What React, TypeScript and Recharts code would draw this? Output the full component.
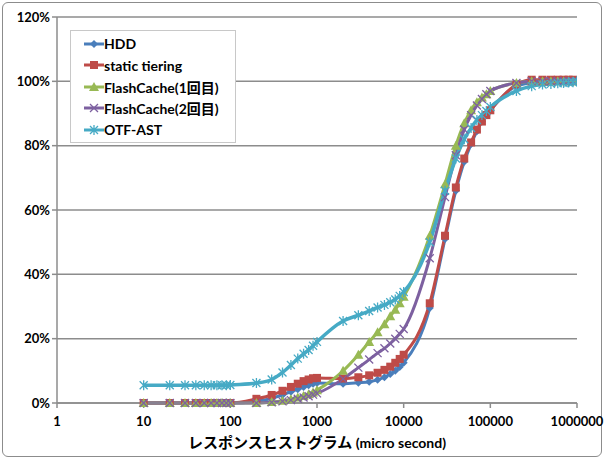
import { LineChart, Line, XAxis, YAxis, CartesianGrid, Label } from "recharts";

const xs = [
  10, 20, 30, 40, 50, 60, 70, 80, 90,
  100, 200, 300, 400, 500, 600, 700, 800, 900,
  1000, 2000, 3000, 4000, 5000, 6000, 7000, 8000, 9000,
  10000, 20000, 30000, 40000, 50000, 60000, 70000, 80000, 90000,
  100000, 200000, 300000, 400000, 500000, 600000, 700000, 800000, 900000,
  1000000,
];

const hdd = [
  0, 0, 0, 0, 0, 0, 0, 0, 0,
  0, 0.5, 1.5, 2.5, 3.5, 4.3, 5, 5.5, 6,
  6.2, 6, 6.3, 6.6, 7.2, 8, 9, 10, 11.2,
  12.5, 29.5, 51, 66, 75, 80.5, 84.5, 87.5, 89.5,
  91, 98.5, 99.5, 99.8, 99.9, 100, 100, 100, 100,
  100,
];

const staticTiering = [
  0, 0, 0, 0, 0, 0, 0, 0, 0,
  0, 1.3, 2.5, 3.8, 5, 6, 6.8, 7.3, 7.7,
  7.8, 7.6, 8, 8.6, 9.4, 10.3, 11.3, 12.5, 13.7,
  15, 31, 52, 67, 76, 81, 85, 87.5, 89.5,
  91, 99, 100.5, 100.5, 100.5, 100.5, 100.5, 100.5, 100.5,
  100.3,
];

const flash1 = [
  0, 0, 0, 0, 0, 0, 0, 0, 0,
  0, 0, 0.3, 0.7, 1.2, 1.7, 2.2, 2.7, 3.3,
  4, 10, 15, 19, 22, 24.5, 27, 29, 31,
  33, 52, 68, 80, 87, 91, 93.5, 95, 96,
  97, 99.5, 100, 100, 100, 100, 100, 100, 100,
  100,
];

const flash2 = [
  0, 0, 0, 0, 0, 0, 0, 0, 0,
  0, 0, 0.2, 0.5, 0.9, 1.3, 1.7, 2.1, 2.6,
  3, 7.5, 11, 13.5, 15.5, 17, 18.5, 20, 21.5,
  23, 45, 64, 77, 85, 89.5, 92.5, 94.5, 96,
  97, 99.5, 100, 100, 100, 100, 100, 100, 100,
  100,
];

const otfAst = [
  5.5, 5.5, 5.5, 5.5, 5.5, 5.5, 5.5, 5.5, 5.5,
  5.6, 6.2, 7.3, 9.5, 11.8, 13.8, 15.3, 16.5, 17.8,
  19, 25.5, 27.3, 28.6, 29.7, 30.5, 31.3, 32.2, 33.3,
  34.5, 50, 66, 76, 82, 85.5, 88, 89.5, 90.8,
  92, 97, 98.5, 99, 99.2, 99.4, 99.5, 99.6, 99.7,
  100,
];

const xTicks = [1, 10, 100, 1000, 10000, 100000, 1000000];
const yTicks = [0, 20, 40, 60, 80, 100, 120];

const data = xs.map((x, i) => ({
  x,
  hdd: hdd[i],
  st: staticTiering[i],
  fc1: flash1[i],
  fc2: flash2[i],
  otf: otfAst[i],
}));

const font = "Lato, 'Noto Sans CJK JP', sans-serif";

type Shape = "diamond" | "square" | "triangle" | "x" | "star";

function marker(shape: Shape, cx: number, cy: number, color: string, key?: string) {
  const s = 4;
  if (shape === "diamond")
    return <path key={key} d={`M${cx},${cy - s}L${cx + s},${cy}L${cx},${cy + s}L${cx - s},${cy}Z`} fill={color} />;
  if (shape === "square")
    return <rect key={key} x={cx - s} y={cy - s} width={s * 2} height={s * 2} fill={color} />;
  if (shape === "triangle")
    return <path key={key} d={`M${cx},${cy - s - 1}L${cx + s + 1},${cy + s}L${cx - s - 1},${cy + s}Z`} fill={color} />;
  if (shape === "x")
    return (
      <path key={key} d={`M${cx - s},${cy - s}L${cx + s},${cy + s}M${cx - s},${cy + s}L${cx + s},${cy - s}`} stroke={color} strokeWidth={1.3} />
    );
  return (
    <path
      key={key}
      d={`M${cx - s},${cy - s}L${cx + s},${cy + s}M${cx - s},${cy + s}L${cx + s},${cy - s}M${cx},${cy - s - 1}L${cx},${cy + s + 1}`}
      stroke={color}
      strokeWidth={1.3}
    />
  );
}

const series = [
  { key: "hdd", name: "HDD", color: "#4A7EBB", shape: "diamond" as Shape },
  { key: "st", name: "static tiering", color: "#BE4B48", shape: "square" as Shape },
  { key: "fc1", name: "FlashCache(1回目)", color: "#98B954", shape: "triangle" as Shape },
  { key: "fc2", name: "FlashCache(2回目)", color: "#7D60A0", shape: "x" as Shape },
  { key: "otf", name: "OTF-AST", color: "#46AAC5", shape: "star" as Shape },
];

function LegendBox() {
  return (
    <div
      style={{
        position: "absolute",
        left: 70,
        top: 30,
        width: 166,
        height: 113,
        border: "1px solid #c8c8c8",
        background: "#fff",
        boxSizing: "border-box",
        paddingTop: 2,
      }}
    >
      {series.map((s) => (
        <div key={s.key} style={{ display: "flex", alignItems: "center", height: 21.5 }}>
          <svg width={20} height={12} style={{ marginLeft: 13 }}>
            <line x1={0} y1={6} x2={20} y2={6} stroke={s.color} strokeWidth={3} />
            {marker(s.shape, 10, 6, s.color)}
          </svg>
          <span style={{ fontFamily: font, fontWeight: "bold", fontSize: 14, color: "#000" }}>{s.name}</span>
        </div>
      ))}
    </div>
  );
}

export default function App() {
  return (
    <div
      style={{
        position: "absolute",
        left: 0,
        top: 0,
        width: 604,
        height: 459,
        background: "#fff",
      }}
    >
      <div
        style={{
          position: "absolute",
          left: 2,
          top: 2,
          width: 598,
          height: 453,
          border: "1px solid #8c8c8c",
          borderRadius: 6,
        }}
      />
      <LineChart width={604} height={459} data={data} margin={{ top: 17, right: 27, left: 0, bottom: 14 }}>
        <CartesianGrid vertical={false} stroke="#8c8c8c" strokeWidth={1.5} />
        <XAxis
          dataKey="x"
          type="number"
          scale="log"
          domain={[1, 1000000]}
          ticks={xTicks}
          interval={0}
          allowDataOverflow
          stroke="#8c8c8c"
          strokeWidth={1.5}
          tickSize={5}
          tickMargin={9}
          tickLine={{ stroke: "#8c8c8c" }}
          tick={{ fill: "#000", fontFamily: font, fontWeight: "bold", fontSize: 13 }}
          height={42}
        >
          <Label
            position="insideBottom"
            offset={6}
            content={() => (
              <text x={317} y={448} textAnchor="middle" fill="#000" fontWeight="bold">
                <tspan fontFamily="'Noto Sans CJK JP', sans-serif" fontSize={15}>レスポンスヒストグラム</tspan>
                <tspan fontFamily={font} fontSize={14}> (micro second)</tspan>
              </text>
            )}
          />
        </XAxis>
        <YAxis
          domain={[0, 120]}
          ticks={yTicks}
          interval={0}
          width={57}
          stroke="#8c8c8c"
          strokeWidth={1.5}
          tickSize={5}
          tickFormatter={(v: number) => `${v}%`}
          tick={{ fill: "#000", fontFamily: font, fontWeight: "bold", fontSize: 13 }}
        />
        {series.map((s) => (
          <Line
            key={s.key}
            dataKey={s.key}
            name={s.name}
            type="monotone"
            stroke={s.color}
            strokeWidth={s.key === "otf" ? 3.5 : 3}
            isAnimationActive={false}
            dot={(p: any) => marker(s.shape, p.cx, p.cy, s.color, `${s.key}-${p.index}`)}
            activeDot={false}
          />
        ))}
      </LineChart>
      <LegendBox />
    </div>
  );
}
